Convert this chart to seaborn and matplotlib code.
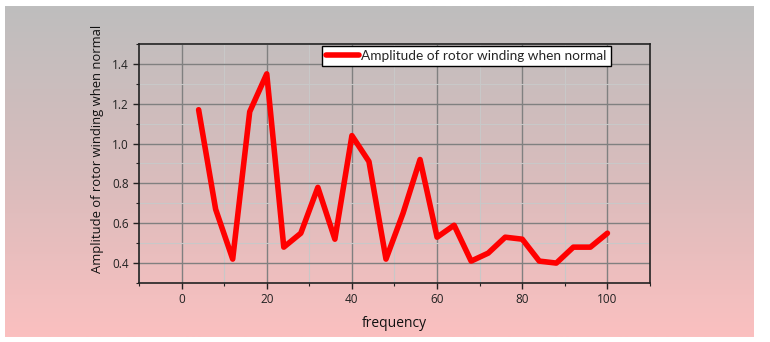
import numpy as np
import pandas as pd
import matplotlib
matplotlib.use("Agg")
import matplotlib.pyplot as plt
import seaborn as sns
from matplotlib.ticker import MultipleLocator
from matplotlib.colors import LinearSegmentedColormap

frequency = [4, 8, 12, 16, 20, 24, 28, 32, 36, 40, 44, 48, 52, 56, 60, 64, 68, 72, 76, 80, 84, 88, 92, 96, 100]
amplitude = [1.17, 0.67, 0.42, 1.16, 1.35, 0.48, 0.55, 0.78, 0.52, 1.04, 0.91, 0.42, 0.65, 0.92,
             0.53, 0.59, 0.41, 0.45, 0.53, 0.52, 0.41, 0.40, 0.48, 0.48, 0.55]
series_name = "Amplitude of rotor winding when normal"
x_label = "frequency"
y_label = "Amplitude of rotor winding when normal"

df = pd.DataFrame({"frequency": frequency, "amplitude": amplitude})

sns.set_style("ticks")
plt.rcParams['font.family'] = ['Open Sans', 'DejaVu Sans']

fig = plt.figure(figsize=(7.7, 3.42), dpi=100)
fig.patch.set_facecolor("white")

# gradient background panel
W, H = 770, 342
bg = fig.add_axes([5 / W, 1 - 337 / H, (754 - 5) / W, (337 - 6) / H])
cmap = LinearSegmentedColormap.from_list("g", ["#bebebe", "#d8bcbc", "#fbc0c0"])
grad = np.linspace(0, 1, 256).reshape(-1, 1)
bg.imshow(grad, aspect="auto", cmap=cmap, extent=[0, 1, 0, 1], origin="upper")
bg.set_axis_off()

ax = fig.add_axes([139 / W, 1 - 283 / H, (650 - 139) / W, (283 - 44) / H])
ax.patch.set_alpha(0)

sns.lineplot(data=df, x="frequency", y="amplitude", ax=ax, color="#ff0000",
             linewidth=4, label=series_name)

ax.set_xlim(-10, 110)
ax.set_ylim(0.3, 1.5)
ax.xaxis.set_major_locator(MultipleLocator(20))
ax.xaxis.set_minor_locator(MultipleLocator(10))
ax.yaxis.set_major_locator(MultipleLocator(0.2))
ax.yaxis.set_minor_locator(MultipleLocator(0.1))
ax.yaxis.set_major_formatter(matplotlib.ticker.FormatStrFormatter('%.1f'))

ax.grid(which="major", color="#808080", linewidth=1.0)
ax.grid(which="minor", color="#c8c8c8", linewidth=0.8)
ax.set_axisbelow(True)

for s in ax.spines.values():
    s.set_color("#222222")
    s.set_linewidth(1.2)

ax.tick_params(which="major", length=4, width=1, labelsize=8.5, colors="#222222")
ax.tick_params(which="minor", length=2.5, width=0.8, colors="#222222")

ax.set_xlabel(x_label, fontsize=10, color="#111111")
ax.set_ylabel(y_label, fontsize=9.4, color="#111111")
ax.xaxis.set_label_coords(0.5, -0.14)
ax.yaxis.set_label_coords(-0.068, 0.56)

leg = ax.legend(loc="upper right", bbox_to_anchor=(0.923, 0.992),
                prop={"family": ["Lato", "DejaVu Sans"], "size": 9.8},
                frameon=True, fancybox=False, framealpha=1, edgecolor="black",
                handlelength=2.4, handletextpad=0.2, borderpad=0.28, borderaxespad=0.0)
leg.get_frame().set_linewidth(1.0)

fig.savefig("out.png", dpi=100)
